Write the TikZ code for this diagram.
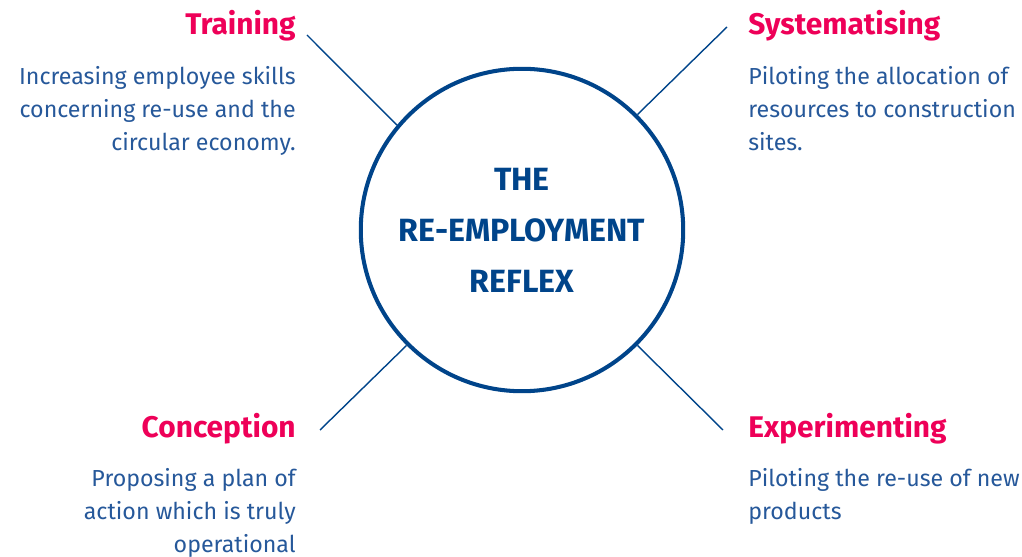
\documentclass[tikz,border=0pt]{standalone}
\usepackage{fontspec}
\setmainfont{Fira Sans}
\usepackage{tikz}
\usetikzlibrary{positioning, calc}

\definecolor{MainBlue}{RGB}{0, 68, 138}
\definecolor{TextBlue}{RGB}{38, 88, 154}
\definecolor{MainPink}{RGB}{238, 0, 88}

\begin{document}
\begin{tikzpicture}[
        x=0.02cm, y=-0.02cm,
        hub/.style={circle, draw=MainBlue, line width=2.3pt, minimum size=6.45cm, inner sep=0pt,
            text=MainBlue, align=center, font=\bfseries\fontsize{18.3}{29}\selectfont},
        title/.style={text=MainPink, inner sep=0pt, font=\bfseries\fontsize{17}{20}\selectfont},
        body/.style={text=TextBlue, inner sep=0pt, font=\fontsize{13.2}{18.7}\selectfont},
        spoke/.style={draw=MainBlue, line width=0.8pt}
    ]
        \useasboundingbox (0,0) rectangle (1022,557);

        % Central circle
        \node[hub] (hub) at (522,230) {THE\\RE-EMPLOYMENT\\REFLEX};

        % Training
        \node[title, anchor=base east] (train) at (296,35) {Training};
        \node[body, anchor=north east, align=right] (trainTxt) at (296,66)
            {Increasing employee skills\\concerning re-use and the\\circular economy.};
        \coordinate (trainEnd) at (307,35);
        \draw[spoke] (trainEnd) -- (hub.140);

        % Systematising
        \node[title, anchor=base west] (syst) at (748,35) {Systematising};
        \node[body, anchor=north west, align=left] (systTxt) at (748,66)
            {Piloting the allocation of\\resources to construction\\sites.};
        \coordinate (systEnd) at (727,27);
        \draw[spoke] (systEnd) -- (hub.45);

        % Conception
        \node[title, anchor=base east] (conc) at (296,438) {Conception};
        \node[body, anchor=north east, align=right] (concTxt) at (296,468)
            {Proposing a plan of\\action which is truly\\operational};
        \coordinate (concEnd) at (320,430);
        \draw[spoke] (concEnd) -- (hub.225);

        % Experimenting
        \node[title, anchor=base west] (expe) at (748,438) {Experimenting};
        \node[body, anchor=north west, align=left] (expeTxt) at (748,468)
            {Piloting the re-use of new\\products};
        \coordinate (expeEnd) at (723,430);
        \draw[spoke] (expeEnd) -- (hub.315);
    \end{tikzpicture}
\end{document}
